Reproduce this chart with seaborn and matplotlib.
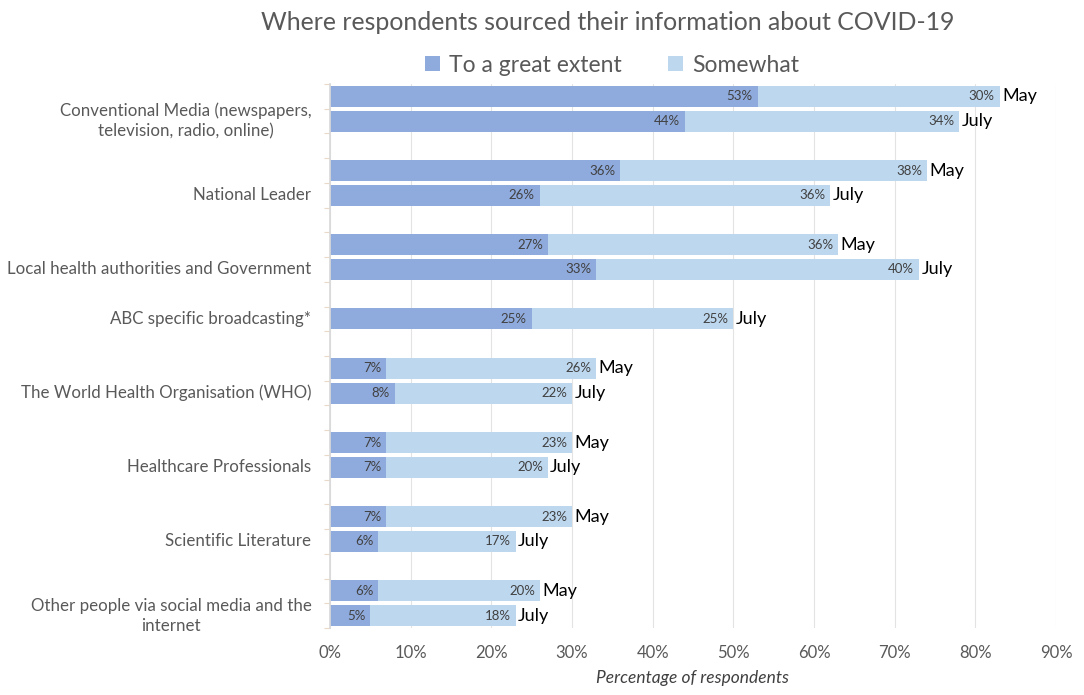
import matplotlib
matplotlib.use("Agg")
import matplotlib.pyplot as plt
from matplotlib.patches import Patch
import seaborn as sns
import pandas as pd
import numpy as np

sns.set_theme(style="white")
plt.rcParams['font.family'] = ['Lato', 'DejaVu Sans']

# ---- data ----
categories = [
    "Conventional Media (newspapers,\ntelevision, radio, online)",
    "National Leader",
    "Local health authorities and Government",
    "ABC specific broadcasting*",
    "The World Health Organisation (WHO)",
    "Healthcare Professionals",
    "Scientific Literature",
    "Other people via social media and the\ninternet",
]
periods = [
    ["May", "July"],
    ["May", "July"],
    ["May", "July"],
    ["July"],
    ["May", "July"],
    ["May", "July"],
    ["May", "July"],
    ["May", "July"],
]
great_extent = [
    [53, 44],
    [36, 26],
    [27, 33],
    [25],
    [7, 8],
    [7, 7],
    [7, 6],
    [6, 5],
]
somewhat = [
    [30, 34],
    [38, 36],
    [36, 40],
    [25],
    [26, 22],
    [23, 20],
    [23, 17],
    [20, 18],
]
x_ticks = [0, 10, 20, 30, 40, 50, 60, 70, 80, 90]
x_tick_labels = [f"{v}%" for v in x_ticks]

dark = "#8FAADC"
light = "#BDD7EE"

# ---- build table with row positions (one blank row between groups) ----
records = []
label_rows = []
row = 0
for ci, cat in enumerate(categories):
    for pi, per in enumerate(periods[ci]):
        g = great_extent[ci][pi]
        s = somewhat[ci][pi]
        records.append(dict(row=row, category=cat, period=per,
                            great=g, somewhat=s, total=g + s))
        row += 1
    label_rows.append(row - 1)
    row += 1
df = pd.DataFrame(records)
last_row = df["row"].max()

fig = plt.figure(figsize=(10.84, 6.95), dpi=100)
ax = fig.add_axes([330 / 1084, 1 - 628 / 695, (1056 - 330) / 1084, (628 - 84) / 695])

sns.barplot(data=df, x="total", y="row", orient="h", native_scale=True,
            color=light, saturation=1, errorbar=None, width=0.85, ax=ax,
            linewidth=0, zorder=2)
sns.barplot(data=df, x="great", y="row", orient="h", native_scale=True,
            color=dark, saturation=1, errorbar=None, width=0.85, ax=ax,
            linewidth=0, zorder=3)

ax.set_xlim(0, 90)
ax.set_ylim(last_row + 0.5, -0.5)

# value labels
for _, r in df.iterrows():
    ax.text(r["great"] - 0.6, r["row"], f"{r['great']}%", ha="right", va="center",
            fontsize=9.5, color="#404040", zorder=5)
    ax.text(r["total"] - 0.6, r["row"], f"{r['somewhat']}%", ha="right", va="center",
            fontsize=9.5, color="#404040", zorder=5)
    ax.text(r["total"] + 0.3, r["row"], r["period"], ha="left", va="center",
            fontsize=13, color="black", zorder=5)

# category labels
ax.set_yticks([])
for ci, cat in enumerate(categories):
    ax.text(-2.3, label_rows[ci], cat, ha="right", va="center", fontsize=12.2,
            color="#595959", linespacing=1.3, multialignment="center",
            transform=ax.transData)

# minor ticks at row boundaries on left axis
ax.set_yticks(np.arange(-0.5, last_row + 1.0, 1.0), minor=True)
ax.tick_params(axis="y", which="minor", length=4, color="#E8D9C8", left=True, width=0.8)

ax.set_xticks(x_ticks)
ax.set_xticklabels(x_tick_labels, fontsize=12, color="#595959")
ax.tick_params(axis="x", length=0, pad=12)
ax.grid(axis="x", color="#E3E3E3", linewidth=0.8, zorder=0)
ax.set_axisbelow(True)
for side in ["top", "right", "bottom"]:
    ax.spines[side].set_visible(False)
ax.spines["left"].set_color("#D9D9D9")
ax.spines["left"].set_zorder(4)

ax.set_xlabel("Percentage of respondents", fontsize=12.5, style="italic",
              color="#404040", labelpad=7)
ax.set_ylabel("")

fig.text(608 / 1084, 1 - 22 / 695, "Where respondents sourced their information about COVID-19",
         ha="center", va="center", fontsize=17.9, color="#595959")

handles = [Patch(facecolor=dark, edgecolor="none", label="To a great extent"),
           Patch(facecolor=light, edgecolor="none", label="Somewhat")]
fig.legend(handles=handles, loc="center", bbox_to_anchor=(612 / 1084, 1 - 65 / 695),
           ncol=2, frameon=False, fontsize=16.5, handlelength=0.65, handleheight=0.65,
           handletextpad=0.4, columnspacing=2.0, labelcolor="#595959")

fig.savefig("out.png", dpi=100)
